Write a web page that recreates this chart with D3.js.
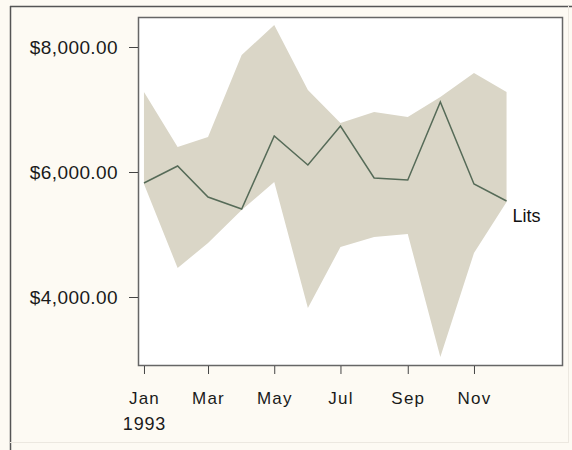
<!DOCTYPE html>
<html><head><meta charset="utf-8">
<script src="https://cdn.jsdelivr.net/npm/d3@7"></script>
<style>html,body{margin:0;padding:0;background:#fdfaf3;}svg{display:block;}</style>
</head><body><svg id="c" width="572" height="450"></svg>
<script>
const months = [0,1,2,3,4,5,6,7,8,9,10,11];
const year = 1993;
const seriesName = "Lits";
const values = [5824,6096,5600,5408,6576,6112,6736,5904,5872,7120,5808,5536];
const upper  = [7280,6400,6560,7872,8352,7312,6784,6960,6880,7200,7584,7280];
const lower  = [5808,4464,4864,5392,5840,3824,4800,4960,5008,3040,4704,5520];
const yTicks = [4000,6000,8000];
const xTickMonths = [0,2,4,6,8,10];

const data = months.map((m,i)=>({d:new Date(year,m,1), v:values[i], hi:upper[i], lo:lower[i]}));
const svg = d3.select("#c");
const L=138,R=563,T=17,B=366;
const FONT="Liberation Sans, Arial, sans-serif";
const x = d3.scaleTime().domain([new Date(1992,11,26,12), new Date(1994,0,22)]).range([L,R]);
const y = d3.scaleLinear().domain([2896,8480]).range([B,T]);

// outer frame
svg.append("rect").attr("x",0).attr("y",0).attr("width",572).attr("height",450).attr("fill","#fdfaf3");
svg.append("line").attr("x1",10.5).attr("x2",10.5).attr("y1",6).attr("y2",450).attr("stroke","#555").attr("stroke-width",1.5);
svg.append("line").attr("x1",10).attr("x2",572).attr("y1",6.5).attr("y2",6.5).attr("stroke","#555").attr("stroke-width",1.5);
svg.append("line").attr("x1",10).attr("x2",568).attr("y1",442.5).attr("y2",442.5).attr("stroke","#ece8e0");
svg.append("line").attr("x1",568.5).attr("x2",568.5).attr("y1",6).attr("y2",443).attr("stroke","#ece8e0");

svg.append("rect").attr("x",L).attr("y",T).attr("width",R-L).attr("height",B-T).attr("fill","#ffffff");

svg.append("path").datum(data)
  .attr("d", d3.area().x(d=>x(d.d)).y0(d=>y(d.lo)).y1(d=>y(d.hi)))
  .attr("fill","#dad6c7");
svg.append("path").datum(data)
  .attr("d", d3.line().x(d=>x(d.d)).y(d=>y(d.v)))
  .attr("fill","none").attr("stroke","#566b58").attr("stroke-width",1.5);

// frame
svg.append("rect").attr("x",L+0.5).attr("y",T+0.5).attr("width",R-L-1).attr("height",B-T-1)
  .attr("fill","none").attr("stroke","#666").attr("stroke-width",1.5);

const fmtY = d3.format("$,.2f");
const ya = svg.append("g").attr("transform",`translate(${L},0)`)
  .call(d3.axisLeft(y).tickValues(yTicks).tickSize(9).tickPadding(11).tickFormat(fmtY));
ya.select(".domain").remove();
ya.selectAll("line").attr("stroke","#444");
ya.selectAll("text").attr("font-family",FONT).attr("font-size",19).attr("letter-spacing",0.4).attr("fill","#1a1a1a");

const xa = svg.append("g").attr("transform",`translate(0,${B})`)
  .call(d3.axisBottom(x).tickValues(xTickMonths.map(m=>new Date(year,m,1))).tickSize(8).tickPadding(18).tickFormat(d3.timeFormat("%b")));
xa.select(".domain").remove();
xa.selectAll("line").attr("stroke","#444");
xa.selectAll("text").attr("font-family",FONT).attr("font-size",17).attr("letter-spacing",1.2).attr("fill","#1a1a1a");
xa.selectAll(".tick").filter(d=>d.getMonth()===0).append("text")
  .attr("y",51).attr("dy","0.71em").attr("fill","#1a1a1a").attr("text-anchor","middle")
  .attr("font-family",FONT).attr("font-size",18).attr("letter-spacing",0.8)
  .text(d=>d.getFullYear());

const last = data[data.length-1];
svg.append("text").attr("x",x(last.d)+6).attr("y",y(last.v)+21)
  .attr("font-family",FONT).attr("font-size",18).attr("fill","#111")
  .text(seriesName);
</script></body></html>
